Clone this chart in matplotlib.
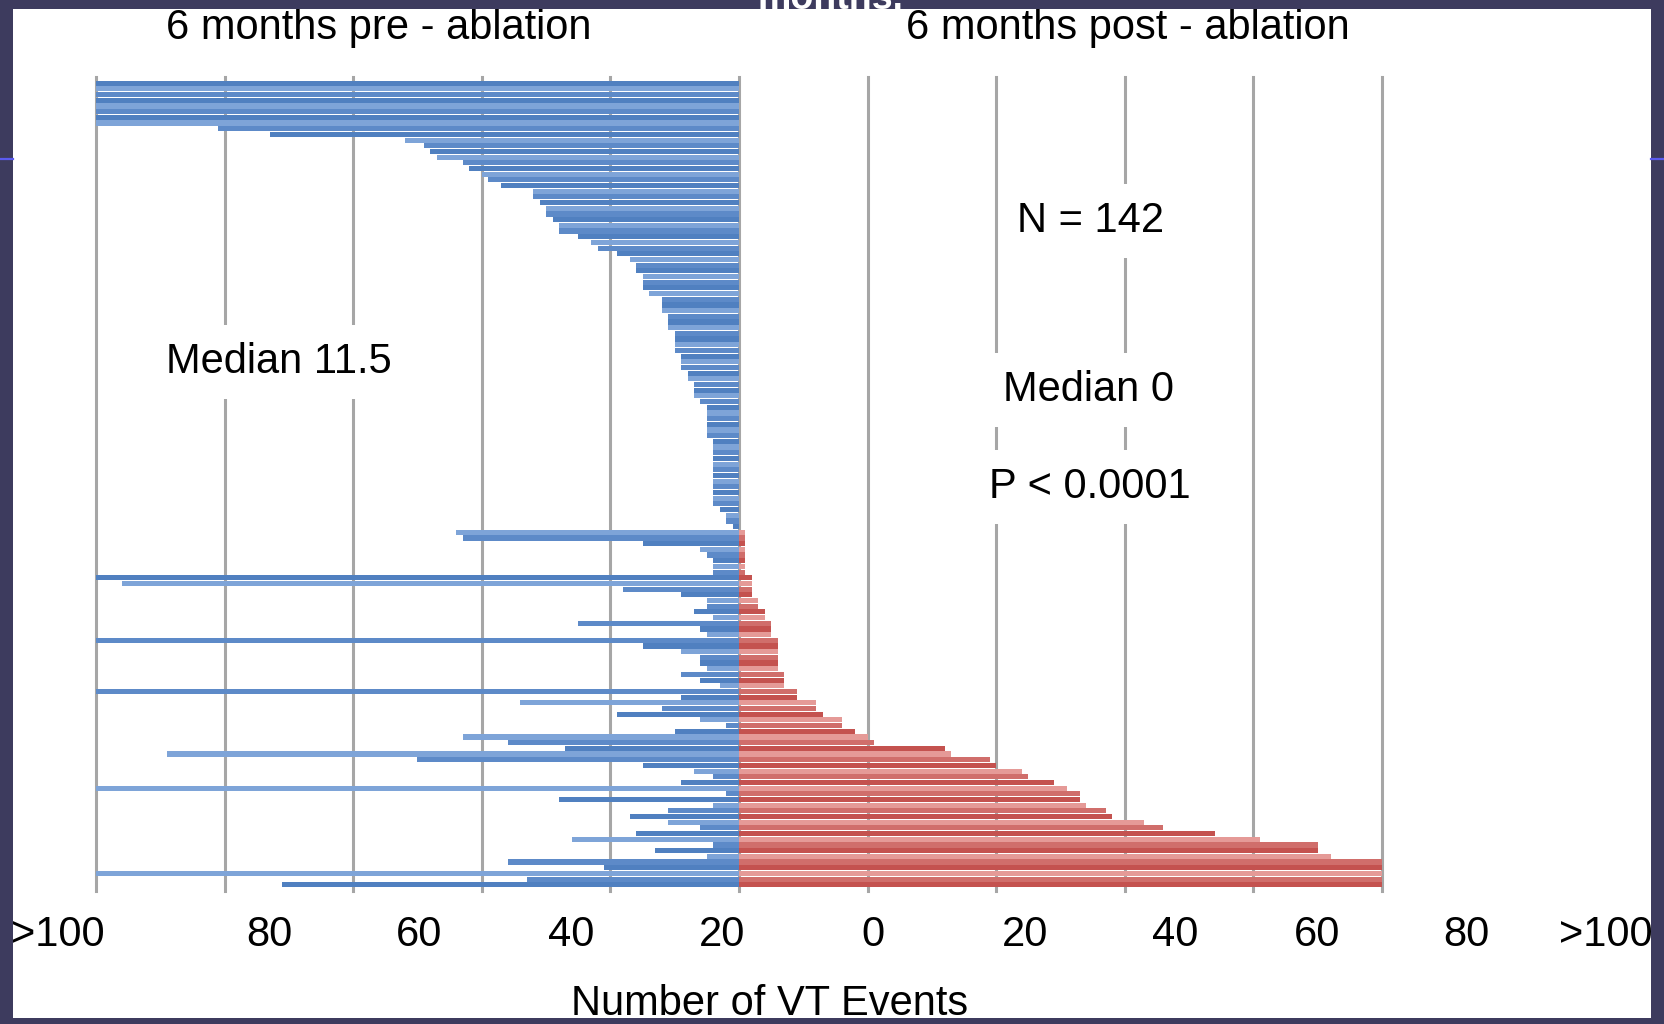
import matplotlib.pyplot as plt
import numpy as np
from matplotlib.patches import Rectangle
from matplotlib.lines import Line2D

plt.rcParams['font.family'] = ['Liberation Sans', 'DejaVu Sans']

# VT events per patient, >100 stored as 100
# rows with no events after ablation (sorted by pre count)
pre_top = [100, 100, 100, 100, 100, 100, 100, 100, 81, 73, 52, 49, 48, 47, 43, 42, 40, 39,
           37, 32, 32, 31, 30, 30, 29, 28, 28, 25, 23, 22, 19, 17, 16, 16, 15, 15, 15, 14,
           12, 12, 12, 11, 11, 11, 10, 10, 10, 10, 9, 9, 9, 8, 8, 7, 7, 7, 6, 5,
           5, 5, 5, 5, 5, 4, 4, 4, 4, 4, 4, 4, 4, 4, 4, 4, 4, 3, 2, 2, 1]
# rows with events after ablation (sorted by post count)
pre_low = [44, 43, 15, 6, 5, 4, 4, 4, 100, 96, 18, 9, 5, 5, 7, 4, 25, 6, 5, 100,
           15, 9, 6, 6, 5, 9, 6, 3, 100, 9, 34, 12, 19, 6, 2, 10, 43, 36, 27, 89,
           50, 15, 7, 4, 9, 100, 2, 28, 4, 11, 17, 11, 6, 16, 26, 4, 13, 5, 36, 21,
           100, 33, 71]
post_low = [1, 1, 1, 1, 1, 1, 1, 1, 2, 2, 2, 2, 3, 3, 4, 4, 5, 5, 5, 6, 6, 6, 6, 6, 6,
            7, 7, 7, 9, 9, 12, 12, 13, 16, 16, 18, 20, 21, 32, 33, 39, 40, 44, 45, 49,
            51, 53, 53, 54, 57, 58, 63, 66, 74, 81, 90, 90, 92, 100, 100, 100, 100, 100]

pre = pre_top + pre_low
post = [0] * len(pre_top) + post_low

tick_labels = ['>100', '80', '60', '40', '20', '0', '20', '40', '60', '80', '>100']

W, H = 1665, 1024
fig = plt.figure(figsize=(W / 100, H / 100), dpi=100)
fig.patch.set_facecolor('white')

def fx(px):
    return px / W

def fy(py):
    return 1 - py / H

ax = fig.add_axes([fx(96), fy(891), (1382 - 96) / W, (891 - 77) / H])
n = len(pre)
y = np.arange(n)
blue_shades = ['#5080c0', '#7ea4d8', '#5d8ac8']
red_shades = ['#c4524f', '#e59a97', '#d06e6b']
bc = [blue_shades[i % 3] for i in range(n)]
rc = [red_shades[i % 3] for i in range(n)]
ax.barh(y, [-v for v in pre], height=0.9, color=bc, zorder=2)
ax.barh(y, post, height=0.9, color=rc, zorder=2)
for gx in range(-100, 101, 20):
    ax.axvline(gx, color='#a6a6a6', lw=2.2, zorder=1, clip_on=False)
ax.set_xlim(-100, 100)
ax.set_ylim(n - 0.5 + 0.6, -0.5 - 0.6)
ax.axis('off')

fs = 30
fig.text(fx(379), fy(28), '6 months pre - ablation', fontsize=fs, ha='center', va='center')
fig.text(fx(1128), fy(28), '6 months post - ablation', fontsize=fs, ha='center', va='center')

box = dict(facecolor='white', edgecolor='none', pad=12)
fig.text(fx(1091), fy(221), 'N = 142', fontsize=fs, ha='center', va='center', bbox=box)
fig.text(fx(279), fy(362), 'Median 11.5', fontsize=fs, ha='center', va='center', bbox=box)
fig.text(fx(1089), fy(390), 'Median 0', fontsize=fs, ha='center', va='center', bbox=box)
fig.text(fx(1090), fy(487), 'P < 0.0001', fontsize=fs, ha='center', va='center', bbox=box)

label_x = [58, 269, 419, 571, 722, 873, 1025, 1175, 1317, 1466, 1606]
for lx, lab in zip(label_x, tick_labels):
    fig.text(fx(lx), fy(935), lab, fontsize=fs, ha='center', va='center')
fig.text(fx(770), fy(1004), 'Number of VT Events', fontsize=fs, ha='center', va='center')

# dark slide border
dark = '#3d3b5e'
for x0, y0, w, h in [(0, 0, 13, H), (1651, 0, W - 1651, H), (0, 0, W, 9), (0, 1018, W, H - 1018)]:
    fig.add_artist(Rectangle((fx(x0), fy(y0 + h)), w / W, h / H, transform=fig.transFigure,
                             facecolor=dark, edgecolor='none', zorder=10))
for x0, x1 in [(0, 13), (1651, W)]:
    fig.add_artist(Line2D([fx(x0), fx(x1)], [fy(159), fy(159)], transform=fig.transFigure,
                          color='#5b5bf0', lw=1.6, zorder=11))
fig.text(fx(831), fy(9), 'months.', fontsize=27, color='white', fontweight='bold',
         ha='center', va='baseline', zorder=12)

fig.savefig('out.png', dpi=100, facecolor=fig.get_facecolor())
